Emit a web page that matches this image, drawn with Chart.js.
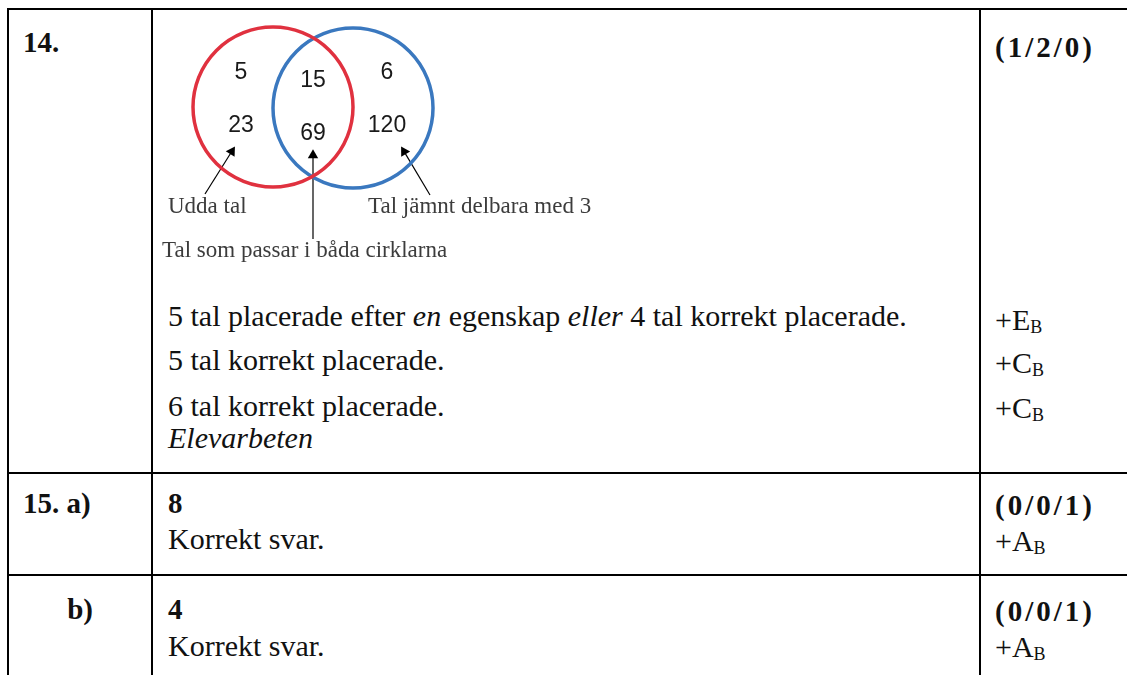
<!DOCTYPE html>
<html lang="sv">
<head>
    <meta charset="UTF-8">
    <title>Bedömning 14-15</title>
    <style>
        body {
            margin: 0;
            width: 1127px;
            height: 675px;
            background: #fff;
            position: relative;
            overflow: hidden;
            font-family: "Liberation Serif", "DejaVu Serif", serif;
            color: #111;
        }
        .hl, .vl {
            position: absolute;
            background: #000;
        }
        .hl { height: 2px; left: 7px; right: 0; }
        .vl { width: 2px; top: 8px; bottom: 0; }
        .t {
            position: absolute;
            line-height: 1;
            white-space: nowrap;
            font-size: 30px;
        }
        .b { font-weight: bold; font-size: 29px; }
        .pts { letter-spacing: 3px; }
        .t sub {
            font-size: 18px;
            vertical-align: baseline;
            position: relative;
            top: 3px;
        }
        #venn {
            position: absolute;
            left: 150px;
            top: 10px;
        }
    </style>
    <script src="https://cdn.jsdelivr.net/npm/chart.js"></script>
</head>
<body>
    <div class="hl" style="top:8px"></div>
    <div class="hl" style="top:472px"></div>
    <div class="hl" style="top:574px"></div>
    <div class="vl" style="left:7px"></div>
    <div class="vl" style="left:151px"></div>
    <div class="vl" style="left:979px"></div>

    <canvas id="venn" width="460" height="260"></canvas>

    <!-- uppgift 14 -->
    <div class="t b" style="left:23px;top:28px">14.</div>
    <div class="t b pts" style="left:995px;top:33px">(1/2/0)</div>
    <div class="t" style="left:168px;top:301px">5 tal placerade efter <i>en</i> egenskap <i>eller</i> 4 tal korrekt placerade.</div>
    <div class="t" style="left:168px;top:345px">5 tal korrekt placerade.</div>
    <div class="t" style="left:168px;top:391px">6 tal korrekt placerade.</div>
    <div class="t" style="left:168px;top:423px"><i>Elevarbeten</i></div>
    <div class="t" style="left:995px;top:305px">+E<sub>B</sub></div>
    <div class="t" style="left:995px;top:348px">+C<sub>B</sub></div>
    <div class="t" style="left:995px;top:393px">+C<sub>B</sub></div>

    <!-- uppgift 15 -->
    <div class="t b" style="left:23px;top:489px">15. a)</div>
    <div class="t b" style="left:168px;top:489px">8</div>
    <div class="t" style="left:168px;top:524px">Korrekt svar.</div>
    <div class="t b pts" style="left:995px;top:491px">(0/0/1)</div>
    <div class="t" style="left:995px;top:526px">+A<sub>B</sub></div>

    <div class="t b" style="left:0;width:93px;text-align:right;top:595px">b)</div>
    <div class="t b" style="left:168px;top:595px">4</div>
    <div class="t" style="left:168px;top:631px">Korrekt svar.</div>
    <div class="t b pts" style="left:995px;top:597px">(0/0/1)</div>
    <div class="t" style="left:995px;top:632px">+A<sub>B</sub></div>

    <script>
        // Venn-diagrammet: vilka tal hamnar i vilket område
        const setNames = ['Udda tal', 'Tal jämnt delbara med 3'];
        const bothName = 'Tal som passar i båda cirklarna';
        const onlyOdd = [5, 23];
        const both = [15, 69];
        const onlyDiv3 = [6, 120];
        const setColors = ['#e0313f', '#3a78bf'];

        // layout in canvas pixels (x right, y down)
        const circleCenters = [{ x: 123, y: 97 }, { x: 203, y: 98 }];
        const circleRadius = 80;
        const regionX = [91, 163, 237];
        const rowY = [69, 122];   // text baselines
        const midDrop = 8;

        const numberPoints = [];
        [onlyOdd, both, onlyDiv3].forEach(function(list, col) {
            list.forEach(function(n, row) {
                numberPoints.push({
                    x: regionX[col],
                    y: rowY[row] + (col === 1 ? midDrop : 0),
                    label: String(n)
                });
            });
        });

        const labelPoints = [
            { x: 18, y: 203, label: setNames[0] },
            { x: 218, y: 203, label: setNames[1] },
            { x: 12, y: 247, label: bothName }
        ];

        // arrows: from label to the region
        const arrowSpecs = [
            { from: { x: 55, y: 184 }, to: { x: 84, y: 138 } },
            { from: { x: 163, y: 229 }, to: { x: 163, y: 141 } },
            { from: { x: 280, y: 185 }, to: { x: 252, y: 138 } }
        ];
        const headR = 6;

        const arrowSets = arrowSpecs.map(function(a) {
            const dx = a.to.x - a.from.x;
            const dy = a.to.y - a.from.y;
            const len = Math.sqrt(dx * dx + dy * dy);
            const end = { x: a.to.x - dx / len * headR * 0.7, y: a.to.y - dy / len * headR * 0.7 };
            const rot = Math.atan2(dx, -dy) * 180 / Math.PI;
            return {
                data: [a.from, end],
                showLine: true,
                borderColor: '#000',
                borderWidth: 1.2,
                pointStyle: 'triangle',
                pointRadius: [0, headR],
                pointRotation: rot,
                pointBackgroundColor: '#000',
                pointBorderColor: '#000',
                pointBorderWidth: 0,
                clip: false
            };
        });

        const textPlugin = {
            id: 'vennText',
            afterDatasetsDraw(chart) {
                const ctx = chart.ctx;
                const xs = chart.scales.x, ys = chart.scales.y;
                ctx.save();
                ctx.textBaseline = 'alphabetic';
                ctx.fillStyle = '#1a1a1a';
                ctx.textAlign = 'center';
                ctx.font = '23px "Liberation Sans", Arial, sans-serif';
                numberPoints.forEach(function(p) {
                    ctx.fillText(p.label, xs.getPixelForValue(p.x), ys.getPixelForValue(p.y));
                });
                ctx.textAlign = 'left';
                ctx.fillStyle = '#3c3c3c';
                ctx.font = '23px "Liberation Serif", serif';
                labelPoints.forEach(function(p) {
                    ctx.fillText(p.label, xs.getPixelForValue(p.x), ys.getPixelForValue(p.y));
                });
                ctx.restore();
            }
        };

        const circleSets = circleCenters.map(function(c, i) {
            return {
                data: [c],
                pointRadius: circleRadius,
                pointBorderWidth: 3.5,
                pointBorderColor: setColors[i],
                pointBackgroundColor: 'rgba(0,0,0,0)',
                clip: false
            };
        });

        new Chart(document.getElementById('venn'), {
            type: 'scatter',
            data: { datasets: circleSets.concat(arrowSets) },
            options: {
                responsive: false,
                animation: false,
                devicePixelRatio: 1,
                events: [],
                layout: { padding: 0, autoPadding: false },
                plugins: { legend: { display: false }, tooltip: { enabled: false } },
                scales: {
                    x: { type: 'linear', min: 0, max: 460, display: false },
                    y: { type: 'linear', min: 0, max: 260, reverse: true, display: false }
                }
            },
            plugins: [textPlugin]
        });
    </script>
</body>
</html>
